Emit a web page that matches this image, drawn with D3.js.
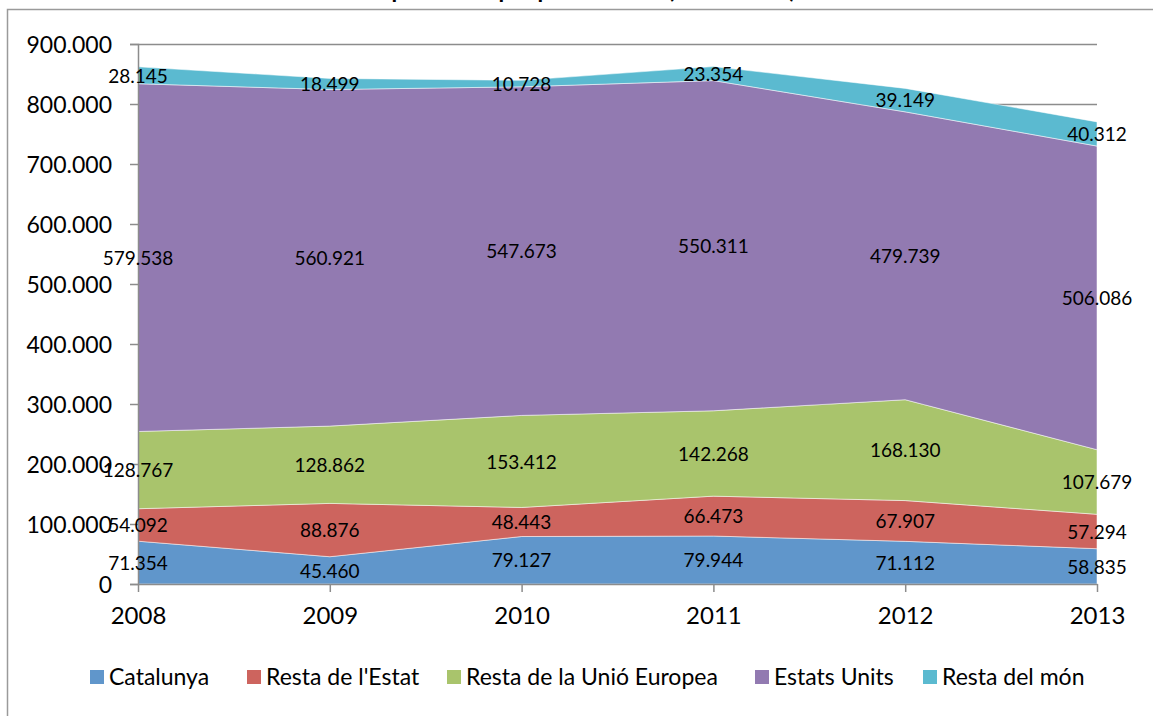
<!DOCTYPE html>
<html><head><meta charset="utf-8">
<script src="https://cdn.jsdelivr.net/npm/d3@7/dist/d3.min.js"></script>
<style>
html,body{margin:0;padding:0;background:#fff;}
svg{display:block;font-family:Lato,"Open Sans",sans-serif;}
</style></head>
<body>
<svg id="c" width="1153" height="716"></svg>
<script>
const years = ["2008","2009","2010","2011","2012","2013"];
const seriesNames = ["Catalunya","Resta de l'Estat","Resta de la Unió Europea","Estats Units","Resta del món"];
const catalunya = [71354,45460,79127,79944,71112,58835];
const restaEstat = [54092,88876,48443,66473,67907,57294];
const restaUE = [128767,128862,153412,142268,168130,107679];
const estatsUnits = [579538,560921,547673,550311,479739,506086];
const restaMon = [28145,18499,10728,23354,39149,40312];
const yTicks = [0,100000,200000,300000,400000,500000,600000,700000,800000,900000];
const colors = ["#6096CB","#CD645E","#A9C46C","#927AB1","#5BBAD0"];
const title = "Espectadors per procedència (2008-2013)";

const seriesValues = [catalunya,restaEstat,restaUE,estatsUnits,restaMon];
const rows = years.map((y,i)=>{const r={year:y}; seriesNames.forEach((n,j)=>r[n]=seriesValues[j][i]); return r;});
const stacked = d3.stack().keys(seriesNames)(rows);

const svg = d3.select("#c");
const fmt = v => d3.format(",")(v).replace(/,/g,".");

// chart frame
svg.append("rect").attr("x",7.5).attr("y",9.5).attr("width",1200).attr("height",800)
  .attr("fill","none").attr("stroke","#9a9a9a").attr("stroke-width",1.5);

svg.append("text").attr("x",582).attr("y",-2).attr("text-anchor","middle")
  .attr("font-size",23).attr("font-weight","bold").attr("fill","#000").text(title);

const x = d3.scalePoint().domain(years).range([138,1097]);
const y = d3.scaleLinear().domain([0,900000]).range([584,44]);

// gridlines
svg.append("g").selectAll("line").data(yTicks.filter(d=>d>0)).join("line")
  .attr("x1",138).attr("x2",1097).attr("y1",d=>y(d)+0.5).attr("y2",d=>y(d)+0.5)
  .attr("stroke","#8c8c8c").attr("stroke-width",1.5);

const area = d3.area().x(d=>x(d.data.year)).y0(d=>y(d[0])).y1(d=>y(d[1]));
svg.append("g").selectAll("path").data(stacked).join("path")
  .attr("d",area).attr("fill",(d,i)=>colors[i])
  .attr("stroke","#ffffff").attr("stroke-opacity",0.5).attr("stroke-width",1);

// axes
const yAxis = d3.axisLeft(y).tickValues(yTicks).tickSize(8).tickPadding(18).tickFormat(d=>fmt(d));
const gy = svg.append("g").attr("transform","translate(138,0)").call(yAxis);
gy.select(".domain").attr("stroke","#8c8c8c").attr("stroke-width",1.5);
gy.selectAll(".tick line").attr("stroke","#8c8c8c").attr("stroke-width",1.5);
gy.selectAll(".tick text").attr("font-size",23).attr("fill","#000").attr("font-family","Lato").attr("dy","0.36em");

const xAxis = d3.axisBottom(x).tickSize(8).tickSizeOuter(0).tickPadding(15);
const gx = svg.append("g").attr("transform","translate(0,584)").call(xAxis);
gx.select(".domain").attr("stroke","#8c8c8c").attr("stroke-width",1.5);
gx.selectAll(".tick line").attr("stroke","#8c8c8c").attr("stroke-width",1.5);
gx.selectAll(".tick text").attr("font-size",24).attr("fill","#000").attr("font-family","Lato");

// data labels
const lab = svg.append("g");
stacked.forEach((s,si)=>{
  lab.selectAll(null).data(s).join("text")
    .attr("x",d=>x(d.data.year)).attr("y",d=>y((d[0]+d[1])/2))
    .attr("dy","0.38em").attr("text-anchor","middle")
    .attr("font-size",19).attr("fill","#000")
    .text(d=>fmt(d[1]-d[0]));
});

// legend
const legX = [90,247,447,755,923];
const lg = svg.append("g").selectAll("g").data(seriesNames).join("g")
  .attr("transform",(d,i)=>`translate(${legX[i]},670)`);
lg.append("rect").attr("width",14).attr("height",14).attr("fill",(d,i)=>colors[i]);
lg.append("text").attr("x",19).attr("y",7).attr("dy","0.36em").attr("font-size",23).attr("fill","#000").text(d=>d);
</script>
</body></html>
